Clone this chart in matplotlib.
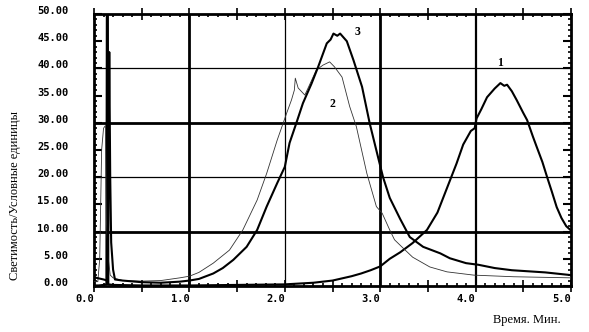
import numpy as np
import matplotlib.pyplot as plt
import matplotlib.transforms as mtransforms

# кривая 1 (толстая, пик около 4.3 мин)
t1 = [0.0, 0.05, 0.10, 0.13, 0.135, 0.145, 0.15, 0.2, 0.5, 1.0, 1.5, 2.0, 2.3, 2.5,
      2.7, 2.8, 2.9, 3.0, 3.1, 3.21, 3.34, 3.49, 3.6, 3.7, 3.8, 3.87, 3.95, 3.99,
      4.01, 4.06, 4.12, 4.2, 4.26, 4.30, 4.33, 4.38, 4.43, 4.5, 4.54, 4.6, 4.64,
      4.7, 4.75, 4.8, 4.85, 4.9, 4.95, 5.0]
y1 = [0.1, 0.1, 0.2, 0.3, 55.0, 55.0, 0.3, 0.2, 0.1, 0.1, 0.2, 0.3, 0.6, 1.0,
      1.8, 2.3, 2.9, 3.6, 5.0, 6.2, 7.9, 10.3, 13.5, 18.0, 22.5, 26.0, 28.5, 29.0,
      30.8, 32.5, 34.7, 36.3, 37.3, 36.8, 37.0, 35.8, 34.2, 31.8, 30.5, 27.5, 25.6,
      22.8, 20.0, 17.3, 14.5, 12.5, 11.0, 10.2]

# кривая 2 (тонкая)
t2 = [0.0, 0.04, 0.06, 0.08, 0.10, 0.12, 0.13, 0.15, 0.17, 0.2, 0.3, 0.5, 0.7, 0.9,
      1.0, 1.1, 1.25, 1.42, 1.56, 1.71, 1.81, 1.92, 2.02, 2.07, 2.10, 2.11, 2.14,
      2.21, 2.26, 2.33, 2.40, 2.47, 2.52, 2.60, 2.68, 2.75, 2.86, 2.96, 3.02, 3.10,
      3.15, 3.25, 3.34, 3.52, 3.70, 3.98, 4.4, 5.0]
y2 = [0.8, 0.8, 5.0, 25.0, 29.0, 29.5, 12.0, 5.0, 2.0, 1.5, 1.0, 0.9, 1.0, 1.5,
      1.8, 2.5, 4.2, 6.6, 10.3, 15.8, 20.7, 26.8, 31.8, 34.2, 36.0, 38.2, 36.4,
      35.1, 37.0, 39.7, 40.6, 41.2, 40.3, 38.4, 33.0, 29.3, 20.7, 14.6, 13.4, 10.3,
      8.5, 6.8, 5.3, 3.5, 2.6, 2.0, 1.7, 1.5]

# кривая 3 (толстая, пик около 2.55 мин)
t3 = [0.0, 0.05, 0.10, 0.14, 0.15, 0.16, 0.17, 0.18, 0.20, 0.22, 0.3, 0.5, 0.7, 0.9,
      1.0, 1.1, 1.25, 1.35, 1.46, 1.6, 1.71, 1.81, 1.92, 2.0, 2.05, 2.12, 2.19,
      2.28, 2.35, 2.44, 2.48, 2.51, 2.55, 2.58, 2.65, 2.72, 2.81, 2.89, 2.98, 3.03,
      3.10, 3.21, 3.31, 3.45, 3.63, 3.73, 3.9, 4.03, 4.2, 4.38, 4.73, 5.0]
y3 = [1.6, 1.4, 1.2, 1.0, 12.0, 43.0, 20.0, 8.0, 3.0, 1.2, 1.0, 0.7, 0.6, 0.8,
      1.0, 1.3, 2.3, 3.3, 4.8, 7.2, 10.3, 14.6, 18.9, 21.9, 26.3, 29.9, 33.6,
      37.2, 40.3, 44.6, 45.3, 46.4, 46.0, 46.4, 45.0, 41.5, 36.6, 29.9, 23.5, 20.0,
      16.2, 12.3, 9.0, 7.2, 6.0, 5.1, 4.2, 3.9, 3.3, 2.9, 2.5, 2.0]

x_ticks = np.arange(0, 5.01, 0.5)
y_ticks = [0, 5, 10, 15, 20, 25, 30, 35, 40, 45, 50]

fig = plt.figure(figsize=(5.89, 3.32), dpi=100)
ax = fig.add_axes([94 / 589, 46 / 332, 477 / 589, 272 / 332])

# сетка
for xv, lw in [(1, 2.0), (2, 0.9), (3, 2.0), (4, 1.6)]:
    ax.axvline(xv, color="black", lw=lw, zorder=1)
for yv, lw in [(10, 2.0), (20, 0.9), (30, 2.0), (40, 0.9)]:
    ax.axhline(yv, color="black", lw=lw, zorder=1)

ax.plot(t1, y1, color="black", lw=1.5, zorder=3)
ax.plot(t2, y2, color="#333333", lw=0.6, zorder=3)
ax.plot(t3, y3, color="black", lw=1.5, zorder=3)

ax.set_xlim(0, 5)
ax.set_ylim(0, 50)
ax.set_xticks(x_ticks)
ax.set_xticklabels(["%.1f" % v if v % 1 == 0 else "" for v in x_ticks])
ax.set_yticks(y_ticks)
ax.set_yticklabels(["%.2f" % v for v in y_ticks])
ax.set_xticks(np.arange(0, 5.01, 0.1), minor=True)
ax.set_yticks(np.arange(0, 50.1, 1), minor=True)

ax.tick_params(which="both", top=True, right=True, color="black")
ax.tick_params(axis="x", which="major", direction="inout", length=8, width=1.2, pad=2)
ax.tick_params(axis="y", which="major", direction="in", length=6, width=1.5, pad=18.5)
ax.tick_params(which="minor", direction="in", length=2.5, width=1.2)

up = mtransforms.ScaledTranslation(0, 4 / 100, fig.dpi_scale_trans)
for lab in ax.get_yticklabels():
    lab.set_transform(lab.get_transform() + up)
for lab in ax.get_xticklabels():
    lab.set_horizontalalignment("right")
for lab in ax.get_xticklabels() + ax.get_yticklabels():
    lab.set_fontfamily("DejaVu Sans Mono")
    lab.set_fontweight("bold")
    lab.set_fontsize(7.5)

for sp in ax.spines.values():
    sp.set_linewidth(2)

ax.text(4.26, 41, "1", fontsize=8.5, family="Liberation Serif", fontweight="bold",
        ha="center", va="center")
ax.text(2.50, 33.5, "2", fontsize=8.5, family="Liberation Serif", fontweight="bold",
        ha="center", va="center")
ax.text(2.76, 46.7, "3", fontsize=8.5, family="Liberation Serif", fontweight="bold",
        ha="center", va="center")

fig.text(15 / 589, 1 - 195 / 332, "Светимость/Условные единицы", rotation=90,
         fontsize=9, family="Liberation Serif", ha="center", va="center")
fig.text(561 / 589, 1 - 320 / 332, "Время. Мин.", fontsize=9,
         family="Liberation Serif", ha="right", va="center")

fig.savefig("out.png", dpi=100)
